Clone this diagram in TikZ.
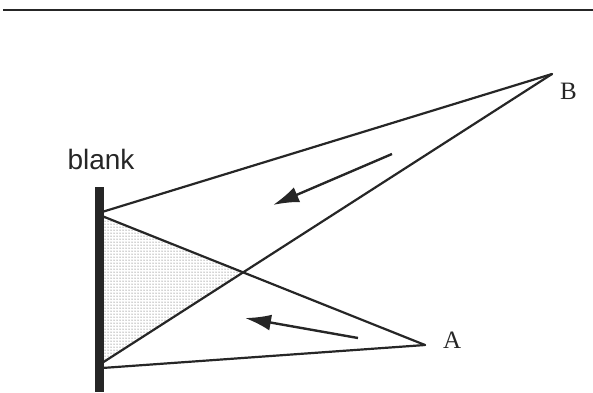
\documentclass[tikz,border=0pt]{standalone}
\usepackage{fontspec}
\setmainfont{Liberation Serif}
\newfontfamily\labelsans{Liberation Sans}
\usetikzlibrary{arrows.meta,patterns,calc}
\definecolor{ink}{HTML}{262626}
\tikzset{
  ray/.style={draw=ink, line width=2.2pt, line cap=round, line join=round},
  flow/.style={draw=ink, line width=2.4pt, -{Latex[length=26pt,width=16pt]}},
  ptlabel/.style={font=\fontsize{25}{25}\selectfont, text=ink, inner sep=0pt},
}
\begin{document}
\begin{tikzpicture}[x=1pt,y=-1pt]
\useasboundingbox (0,0) rectangle (593,392);
% top rule
\draw[draw=ink, line width=2.5pt] (3,10) -- (593,10);
% points
\coordinate (B) at (552,74);
\coordinate (A) at (425,345);
\coordinate (b1) at (102,212);
\coordinate (b2) at (102,216);
\coordinate (b3) at (102,363);
\coordinate (b4) at (102,368);
\coordinate (X) at (243,272.4);
% shaded region
\fill[pattern=dots, pattern color=black!75] (b2) -- (X) -- (b3) -- cycle;
% rays
\draw[ray] (b1) -- (B);
\draw[ray] (b2) -- (A);
\draw[ray] (b3) -- (B);
\draw[ray] (b4) -- (A);
% blank bar
\fill[ink] (95,187) rectangle (104,392);
% labels
\node[ptlabel, anchor=west] (Blab) at (560,91) {B};
\node[ptlabel, anchor=west] (Alab) at (443,340) {A};
\node[font=\labelsans\fontsize{28}{28}\selectfont, text=ink, inner sep=0pt] (blank) at (101,159) {blank};
% arrows
\coordinate (u1) at (392,154);
\coordinate (u2) at (273,205);
\coordinate (l1) at (358,338);
\coordinate (l2) at (245,318);
\draw[flow] (u1) -- (u2);
\draw[flow] (l1) -- (l2);
\end{tikzpicture}
\end{document}
